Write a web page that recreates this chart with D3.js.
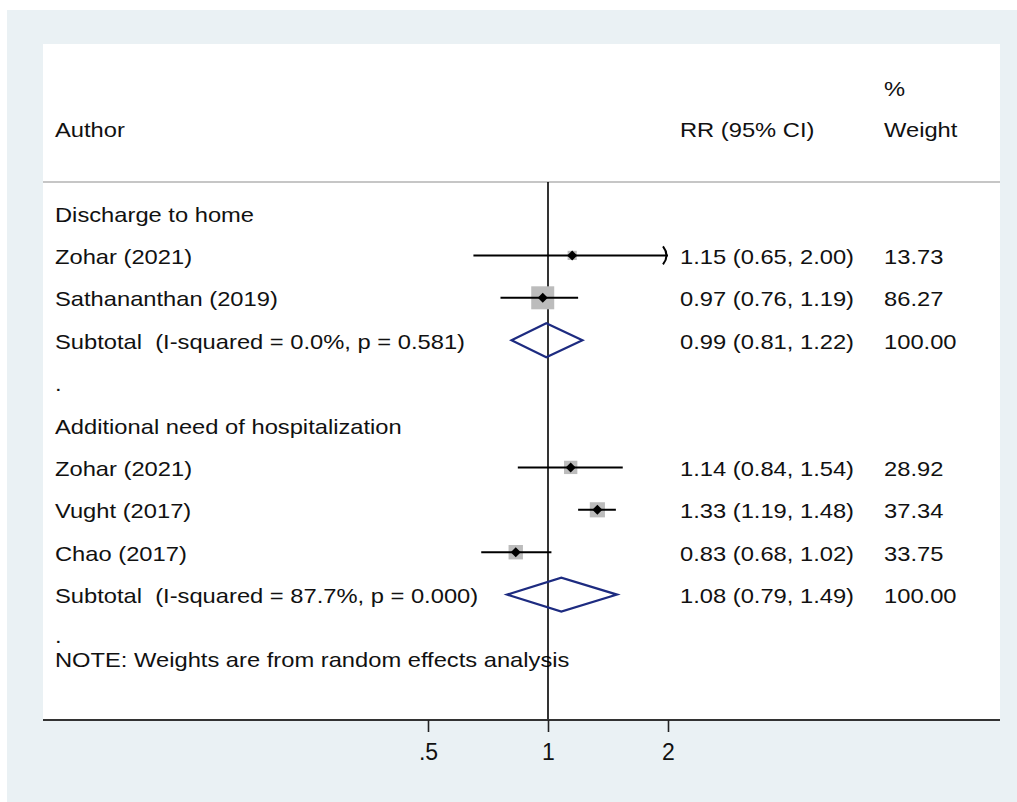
<!DOCTYPE html>
<html>
<head>
<meta charset="utf-8">
<script src="https://cdn.jsdelivr.net/npm/d3@7"></script>
<style>
  body { margin: 0; background: #fff; }
  text { font-family: "Liberation Sans", Arial, sans-serif; fill: #111; white-space: pre; }
</style>
</head>
<body>
<div id="chart"></div>
<script>
// rows of the forest plot, top to bottom
const rowLabels = [
  "Discharge to home",
  "Zohar (2021)",
  "Sathananthan (2019)",
  "Subtotal  (I-squared = 0.0%, p = 0.581)",
  ".",
  "Additional need of hospitalization",
  "Zohar (2021)",
  "Vught (2017)",
  "Chao (2017)",
  "Subtotal  (I-squared = 87.7%, p = 0.000)",
  "."
];
const rowTypes = ["group", "study", "study", "subtotal", "blank",
  "group", "study", "study", "study", "subtotal", "blank"];
const rrValues = [null, 1.15, 0.97, 0.99, null, null, 1.14, 1.33, 0.83, 1.08, null];
const ciLower = [null, 0.65, 0.76, 0.81, null, null, 0.84, 1.19, 0.68, 0.79, null];
const ciUpper = [null, 2.00, 1.19, 1.22, null, null, 1.54, 1.48, 1.02, 1.49, null];
const weights = [null, 13.73, 86.27, 100, null, null, 28.92, 37.34, 33.75, 100, null];
const rrText = ["", "1.15 (0.65, 2.00)", "0.97 (0.76, 1.19)", "0.99 (0.81, 1.22)", "",
  "", "1.14 (0.84, 1.54)", "1.33 (1.19, 1.48)", "0.83 (0.68, 1.02)", "1.08 (0.79, 1.49)", ""];
const weightText = ["", "13.73", "86.27", "100.00", "", "", "28.92", "37.34", "33.75", "100.00", ""];
const tickValues = [0.5, 1, 2];
const tickLabels = [".5", "1", "2"];
const noteText = "NOTE: Weights are from random effects analysis";

const width = 1017;
const height = 802;
const panel = { left: 43, right: 1000, top: 44, bottom: 720 };
const headerLine = 182;
const fontSize = 21;
const stretch = 1.13;
const navy = "#1d2b80";

const svg = d3.select("#chart")
  .append("svg")
  .attr("width", width)
  .attr("height", height);

// backgrounds
svg.append("rect")
  .attr("x", 7).attr("y", 10)
  .attr("width", width - 7).attr("height", height - 10)
  .attr("fill", "#eaf1f4");

svg.append("rect")
  .attr("x", panel.left).attr("y", panel.top)
  .attr("width", panel.right - panel.left)
  .attr("height", panel.bottom - panel.top)
  .attr("fill", "#fff");

const x = d3.scaleLog().domain([0.5, 2]).range([428, 668]);
const y = d3.scaleLinear().domain([0, 10]).range([213, 637]);
const boxSize = d3.scaleSqrt().domain([0, 86.27]).range([0, 23]);

function addText(g, px, py, str, size) {
  return g.append("text")
    .attr("transform", `translate(${px},${py}) scale(${stretch},1)`)
    .style("font-size", (size || fontSize) + "px")
    .text(str);
}

// header
const header = svg.append("g");
addText(header, 55, 137, "Author");
addText(header, 680, 137, "RR (95% CI)");
addText(header, 884, 96, "%");
addText(header, 884, 137, "Weight");

svg.append("line")
  .attr("x1", panel.left).attr("x2", panel.right)
  .attr("y1", headerLine).attr("y2", headerLine)
  .attr("stroke", "#c6c6c6")
  .attr("stroke-width", 2);

// text columns
const rows = svg.append("g");
rowLabels.forEach((label, i) => {
  // the last spacer dot sits just above the note line
  const base = i === rowLabels.length - 1 ? 643 : y(i) + 8.5;
  addText(rows, 55, base, label);
  if (rrText[i]) addText(rows, 680, base, rrText[i]);
  if (weightText[i]) addText(rows, 884, base, weightText[i]);
});
addText(rows, 55, 667, noteText);

// null line
svg.append("line")
  .attr("x1", x(1)).attr("x2", x(1))
  .attr("y1", headerLine).attr("y2", panel.bottom)
  .attr("stroke", "#000")
  .attr("stroke-width", 1.6);

const marks = svg.append("g");

rowTypes.forEach((type, i) => {
  const cy = y(i);
  if (type === "study") {
    const s = boxSize(weights[i]);
    marks.append("rect")
      .attr("x", x(rrValues[i]) - s / 2)
      .attr("y", cy - s / 2)
      .attr("width", s).attr("height", s)
      .attr("fill", "#bcbcbc");

    const hiClip = Math.min(ciUpper[i], x.domain()[1]);
    marks.append("line")
      .attr("x1", x(ciLower[i])).attr("x2", x(hiClip))
      .attr("y1", cy).attr("y2", cy)
      .attr("stroke", "#000")
      .attr("stroke-width", 2);

    if (ciUpper[i] >= x.domain()[1]) {
      const ax = x(x.domain()[1]);
      marks.append("path")
        .attr("d", `M${ax - 5},${cy - 9} Q${ax + 2},${cy} ${ax - 5},${cy + 9}`)
        .attr("fill", "none")
        .attr("stroke", "#000")
        .attr("stroke-width", 2);
    }

    const px = x(rrValues[i]);
    marks.append("path")
      .attr("d", `M${px - 5},${cy} L${px},${cy - 5} L${px + 5},${cy} L${px},${cy + 5}Z`)
      .attr("fill", "#000");
  } else if (type === "subtotal") {
    const xl = x(ciLower[i]), xm = x(rrValues[i]), xh = x(ciUpper[i]);
    marks.append("path")
      .attr("d", `M${xl},${cy} L${xm},${cy - 17} L${xh},${cy} L${xm},${cy + 17}Z`)
      .attr("fill", "none")
      .attr("stroke", navy)
      .attr("stroke-width", 2.2);
  }
});

// x axis
svg.append("line")
  .attr("x1", panel.left).attr("x2", panel.right)
  .attr("y1", panel.bottom).attr("y2", panel.bottom)
  .attr("stroke", "#333")
  .attr("stroke-width", 2.2);

const axis = svg.append("g")
  .attr("transform", `translate(0,${panel.bottom})`)
  .call(d3.axisBottom(x)
    .tickValues(tickValues)
    .tickFormat((d, i) => tickLabels[i])
    .tickSize(12)
    .tickPadding(11.5));

axis.select(".domain").remove();
axis.selectAll(".tick line").attr("stroke", "#222").attr("stroke-width", 1.6);
axis.selectAll(".tick text")
  .style("font-size", "23px")
  .style("font-family", "'Liberation Sans', Arial, sans-serif")
  .attr("fill", "#111");
</script>
</body>
</html>
